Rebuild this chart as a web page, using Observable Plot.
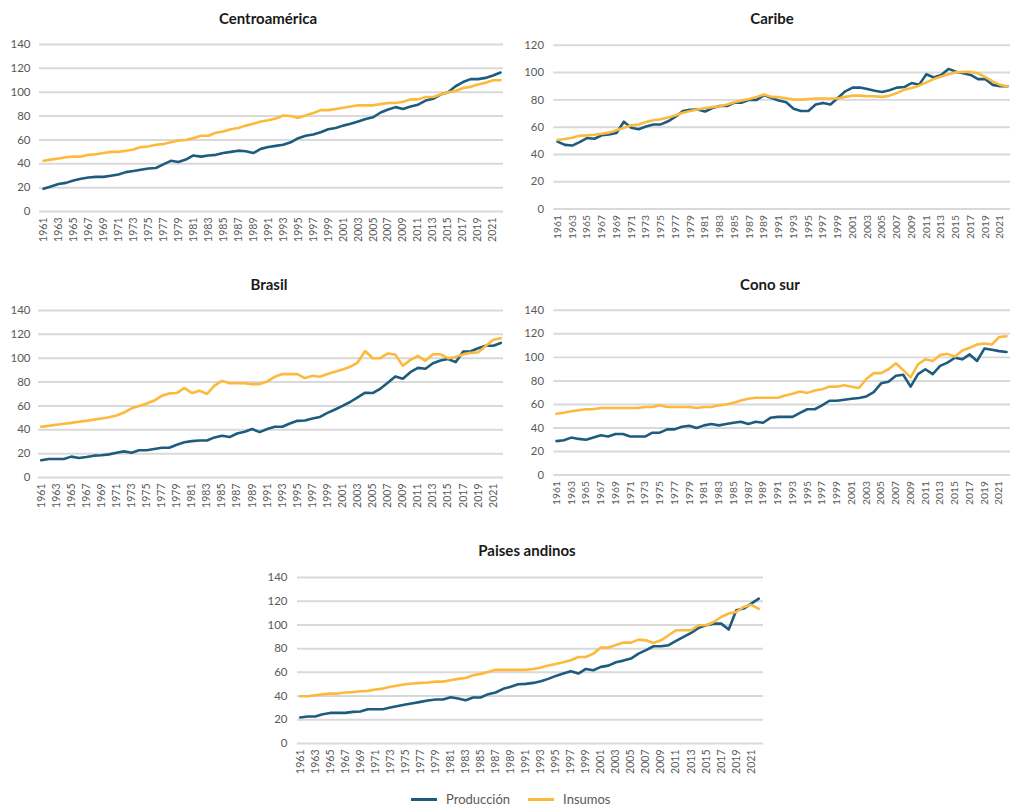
<!DOCTYPE html>
<html>
<head>
<meta charset="utf-8">
<script src="https://cdn.jsdelivr.net/npm/d3@7"></script>
<script src="https://cdn.jsdelivr.net/npm/@observablehq/plot@0.6"></script>
<style>
  html, body { margin: 0; padding: 0; background: #fff; overflow: hidden; }
  #root { position: relative; width: 1010px; height: 806px; overflow: hidden; font-family: Lato, "Open Sans", sans-serif; }
  .panel { position: absolute; }
  .title { position: absolute; transform: translateX(-50%); font-weight: 700; font-size: 15px; color: #1a1a1a; white-space: nowrap; line-height: 1; }
  .legend { position: absolute; top: 791px; left: 411px; font-size: 13px; color: #595959; display: flex; align-items: center; white-space: nowrap; }
  .sw { display: inline-block; width: 26px; height: 3px; margin-right: 9px; }
</style>
</head>
<body>
<div id="root"></div>
<script>
const years = d3.range(1961, 2023);
const xTicks = d3.range(1961, 2022, 2);
const yTicks140 = [0, 20, 40, 60, 80, 100, 120, 140];
const yTicks120 = [0, 20, 40, 60, 80, 100, 120];

const seriesNames = ["Producción", "Insumos"];
const seriesColors = ["#1d5c7e", "#fdb93c"];

const panelTitles = ["Centroamérica", "Caribe", "Brasil", "Cono sur", "Paises andinos"];

const caProd = [19,21,23,24,26,27.5,28.5,29,29,30, 31,33,34,35,36,36.5,39.5,42.5,41.5,43.5, 47,46,47,47.5,49,50,51,50.5,49,52.5, 54,55,56,58,61.5,63.5,64.5,66.5,69,70, 72,73.5,75.5,77.5,79,83,85.5,87.5,86,88, 89.5,93,94.5,98,100,105,108.5,111,111,112, 114,116.5];
const caIns = [42.5,43.5,44.5,45.5,46,46,47.5,48,49,50, 50,51,52,54,54.5,56,56.5,58,59.5,60, 61.5,63.5,63.5,66,67,69,70,72,73.5,75.5, 76.5,78,80.5,80,78.5,80.5,82.5,85,85,86, 87,88,89,89,89,90,91,91,92,94, 94,96,96,98,100,101,103.5,104.5,106.5,108, 110,110];

const cbProd = [49.4,47,46.5,49,52,51.5,54,54.7,55.7,64, 59.5,58.5,60.5,62,62,64.3,67.7,71.8,72.8,73, 71.5,74,75.5,75.5,78,78,80,80,83.5,81.4, 79.5,78.3,73.5,71.8,71.8,76.6,77.8,76.6,81.4,86.3, 89,89,88,86.7,85.8,87,89,89.4,92.3,91, 98.8,96.4,98.3,102.7,100.7,99.5,98.3,95.2,95.2,91, 90,90];
const cbIns = [50.6,51.3,52.3,53.7,54,54.5,55.2,56,57.8,59.5, 61.4,62,63.8,65,65.8,67,68.7,70.6,71.8,73, 74,74.7,75.4,76.6,78.3,79.5,80.7,82.2,83.9,82.2, 82,81.2,80.2,80.2,80.7,81,81,81,81,82.2, 83.1,83.1,82.7,82.7,82.2,83.1,85,87.5,88.7,90.4, 92.8,95.2,97.1,98.8,100.2,100.5,100.5,99.5,96.6,93.5, 91,90];

const brProd = [14.4,15.5,15.5,15.5,17.5,16.4,17.2,18.3,18.6,19.4, 20.8,21.9,20.8,22.8,22.8,23.9,25,25,27.5,29.5, 30.5,31,31,33.6,35,33.9,36.9,38.3,40.6,38, 40.6,42.5,42.5,45.3,47.5,47.8,49.4,50.8,54.2,57, 60,63.3,67.2,71.1,70.8,74.4,79.4,84.7,82.8,88.3, 91.9,91.1,95.8,98,99.4,96.7,105.5,105.8,108.3,110.5, 110.5,112.8];
const brIns = [42.5,43.3,44.2,45,45.8,46.7,47.5,48.5,49.5,50.5, 52,54.5,58,60,62,64.5,68.5,70.5,70.8,75, 70.8,72.8,70,77,81,79,79,79,78.3,78.3, 80.5,84.4,86.7,86.7,86.7,83.3,85.3,84.4,86.7,88.6, 90.6,92.8,96.4,106,100,100,104,103,93.6,98.6, 102,97.8,103.3,103.3,100,101,103.2,104.5,105,110.3, 115.5,116.7];

const csProd = [28.8,29.6,31.8,30.7,29.9,31.8,33.8,32.7,34.9,34.9, 32.7,32.7,32.7,36,36,38.8,38.8,41,41.9,39.9, 42.2,43.3,42.2,43.3,44.4,45.3,43.3,45.3,44.4,48.6, 49.4,49.4,49.4,52.8,55.9,55.9,59.2,63.1,63.1,64, 64.8,65.4,66.8,70.4,77.9,79.3,84.4,85.2,75.1,85.8, 89.9,85.8,92.7,95.5,99.7,98.3,102.5,96.9,107.5,106.4, 105.3,104.5];
const csIns = [52,53,54.2,55,55.9,55.9,57,57,57,57, 57,57,57.8,57.8,59.2,57.8,57.8,57.8,57.8,57, 57.8,57.8,59.2,60,61.5,63.4,64.8,65.6,65.6,65.6, 65.6,67.6,69,71,69.8,71.8,72.9,75.1,75.1,76.3, 75.1,74,81.6,86.6,86.6,89.9,95,89.1,83,94.1, 98.3,96.9,102,103,100.6,105.9,108.1,110.9,111.7,110.9, 117.3,118];

const paProd = [21.9,22.8,22.8,24.7,25.8,25.8,25.8,26.7,27,28.9, 28.9,28.9,30.3,31.7,32.9,34,35.1,36.2,37.1,37.1, 39,37.9,36.5,38.8,38.8,41.6,43,46.1,47.8,50, 50.3,51.1,52.5,54.5,57,59,61,59,62.9,61.8, 64.6,65.7,68.5,69.9,71.6,75.8,78.7,82,82,82.9, 86.5,89.9,93.3,97.5,99.7,101.1,101.1,96.1,112.4,113.8, 118,122.2];
const paIns = [39.9,39.9,40.7,41.6,42.1,42.1,43,43.3,44.1,44.4, 45.5,46.3,47.8,48.9,50,50.6,51.1,51.4,52.2,52.2, 53.4,54.5,55.3,57.6,58.7,60.4,62.1,62.1,62.1,62.1, 62.1,62.9,64,65.7,67.1,68.5,70.2,73,73,75.8, 80.9,80.9,83.1,85.1,85.1,87.6,87,84.8,87,91.3, 95.5,95.5,95.5,99.7,99.7,102.5,106.7,109.6,111,115.2, 117,113.5];

const root = document.getElementById("root");
const FONT = "Lato, 'Open Sans', sans-serif";

function makePanel(cfg) {
  const data = years.map((yr, i) => ({year: yr, prod: cfg.prod[i], ins: cfg.ins[i]}));
  const yTicks = cfg.yMax === 140 ? yTicks140 : yTicks120;
  const chart = Plot.plot({
    width: cfg.width,
    height: 220,
    marginLeft: cfg.mL,
    marginRight: cfg.mR,
    marginTop: 14,
    marginBottom: cfg.mB,
    style: {fontFamily: FONT, color: "#595959", background: "transparent", overflow: "visible"},
    x: {domain: [1961, 2022], insetLeft: cfg.inL, insetRight: cfg.inR},
    y: {domain: [0, cfg.yMax]},
    marks: [
      Plot.gridY(yTicks, {stroke: "#d9d9d9", strokeOpacity: 1, strokeWidth: 2}),
      Plot.axisY(yTicks, {tickSize: 0, tickPadding: cfg.tp, label: null, fontSize: 11.5, fill: "#595959"}),
      Plot.axisX(xTicks, {tickSize: 0, tickRotate: -90, tickPadding: 6, tickFormat: d => String(d), label: null, fontSize: 10.5, fill: "#595959"}),
      Plot.line(data, {x: "year", y: "prod", stroke: seriesColors[0], strokeWidth: 2.6}),
      Plot.line(data, {x: "year", y: "ins", stroke: seriesColors[1], strokeWidth: 2.6})
    ]
  });
  const div = document.createElement("div");
  div.className = "panel";
  div.style.left = cfg.left + "px";
  div.style.top = cfg.top + "px";
  div.appendChild(chart);
  root.appendChild(div);

  const t = document.createElement("div");
  t.className = "title";
  t.textContent = cfg.title;
  t.style.left = cfg.tx + "px";
  t.style.top = cfg.ty + "px";
  root.appendChild(t);
}

makePanel({title: panelTitles[0], prod: caProd, ins: caIns, yMax: 140, left: 0, top: 30, width: 505, mL: 39, mR: 2, mB: 39, inL: 4, inR: 3, tp: 9, tx: 268, ty: 11});
makePanel({title: panelTitles[1], prod: cbProd, ins: cbIns, yMax: 120, left: 505, top: 31, width: 512, mL: 49, mR: 0, mB: 40, inL: 3.7, inR: 3, tp: 10, tx: 772, ty: 11});
makePanel({title: panelTitles[2], prod: brProd, ins: brIns, yMax: 140, left: 0, top: 296, width: 505, mL: 38, mR: 2, mB: 39, inL: 2.7, inR: 2.7, tp: 8, tx: 269, ty: 277});
makePanel({title: panelTitles[3], prod: csProd, ins: csIns, yMax: 140, left: 505, top: 296, width: 512, mL: 49, mR: 0, mB: 39, inL: 2.7, inR: 4, tp: 10, tx: 770, ty: 277});
makePanel({title: panelTitles[4], prod: paProd, ins: paIns, yMax: 140, left: 250, top: 563, width: 515, mL: 47, mR: 2, mB: 40, inL: 2.7, inR: 4.7, tp: 10, tx: 527, ty: 543});

const legend = document.createElement("div");
legend.className = "legend";
seriesNames.forEach((name, i) => {
  const item = document.createElement("span");
  item.style.display = "inline-flex";
  item.style.alignItems = "center";
  item.style.marginRight = i === 0 ? "18px" : "0";
  const sw = document.createElement("span");
  sw.className = "sw";
  sw.style.background = seriesColors[i];
  const tx = document.createElement("span");
  tx.textContent = name;
  item.appendChild(sw);
  item.appendChild(tx);
  legend.appendChild(item);
});
root.appendChild(legend);
</script>
</body>
</html>
